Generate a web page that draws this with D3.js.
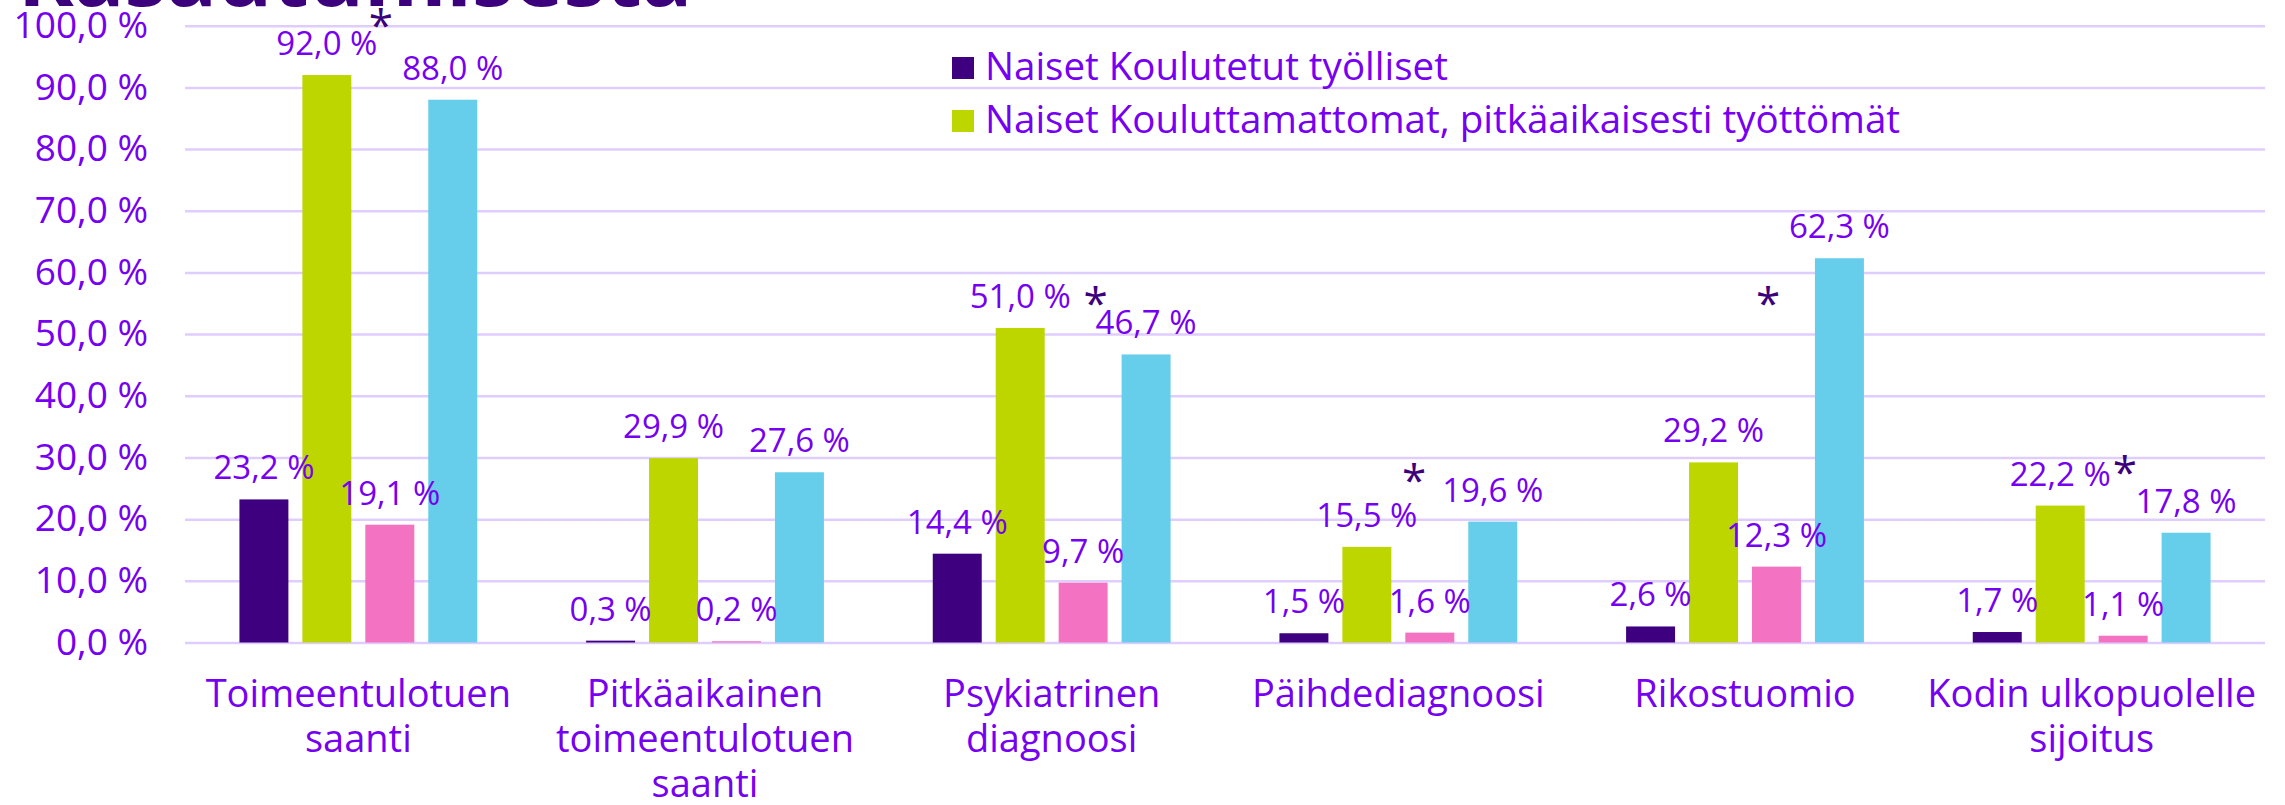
<!DOCTYPE html>
<html>
<head>
<meta charset="utf-8">
<script src="https://cdn.jsdelivr.net/npm/d3@7"></script>
<style>
  body { margin: 0; background: #fff; }
  text { font-family: "Open Sans", "Noto Sans", sans-serif; }
</style>
</head>
<body>
<script>
// luokat ja sarjat
const categories = [
    "Toimeentulotuen saanti",
    "Pitkäaikainen toimeentulotuen saanti",
    "Psykiatrinen diagnoosi",
    "Päihdediagnoosi",
    "Rikostuomio",
    "Kodin ulkopuolelle sijoitus"
];
const seriesNames = [
    "Naiset Koulutetut työlliset",
    "Naiset Kouluttamattomat, pitkäaikaisesti työttömät",
    "Miehet Koulutetut työlliset",
    "Miehet Kouluttamattomat, pitkäaikaisesti työttömät"
];
const seriesColors = ["#3F007F", "#BED600", "#F472C2", "#66CDEA"];

const naisetKoulutetut = [23.2, 0.3, 14.4, 1.5, 2.6, 1.7];
const naisetKouluttamattomat = [92.0, 29.9, 51.0, 15.5, 29.2, 22.2];
const miehetKoulutetut = [19.1, 0.2, 9.7, 1.6, 12.3, 1.1];
const miehetKouluttamattomat = [88.0, 27.6, 46.7, 19.6, 62.3, 17.8];
const seriesValues = [naisetKoulutetut, naisetKouluttamattomat, miehetKoulutetut, miehetKouluttamattomat];

const yTicks = [0, 10, 20, 30, 40, 50, 60, 70, 80, 90, 100];
const legendCount = 2; // vain kaksi ensimmäistä näkyy selitteessä

// tähdet: luokka, kohta ryhmän sisällä (0..1), korkeus prosentteina
const asterisks = [
    { cat: 0, pos: 0.595, value: 101.0 },
    { cat: 2, pos: 0.685, value: 55.8 },
    { cat: 3, pos: 0.566, value: 27.2 },
    { cat: 4, pos: 0.597, value: 55.9 },
    { cat: 5, pos: 0.64, value: 28.4 }
];

const textColor = "#7500F2";
const darkColor = "#3D007D";
const gridColor = "#DFCDFF";

const W = 2285, H = 805;
const plotLeft = 185, plotRight = 2265, plotTop = 25.7, plotBottom = 642.5;

const svg = d3.select("body").append("svg")
    .attr("width", W)
    .attr("height", H);

const y = d3.scaleLinear().domain([0, 100]).range([plotBottom, plotTop]);

const x0 = d3.scaleBand()
    .domain(d3.range(categories.length))
    .range([plotLeft, plotRight])
    .paddingInner(0.314)
    .paddingOuter(0.157);

const x1 = d3.scaleBand()
    .domain(d3.range(seriesNames.length))
    .range([0, x0.bandwidth()])
    .paddingInner(0.222);

const fmt = v => d3.format(".1f")(v).replace(".", ",") + " %";

// otsikko (leikkautuu yläreunasta)
svg.append("text")
    .attr("x", 18)
    .attr("y", 6)
    .attr("fill", darkColor)
    .style("font-size", "84px")
    .style("font-weight", "bold")
    .text("Kasautumisesta");

// y-akseli + ruudukko
const yAxis = svg.append("g")
    .attr("transform", `translate(${plotLeft},0)`)
    .call(d3.axisLeft(y).tickValues(yTicks).tickFormat(fmt)
        .tickSize(-(plotRight - plotLeft)).tickPadding(37));
yAxis.select(".domain").remove();
yAxis.selectAll("line").attr("stroke", gridColor).attr("stroke-width", 2.5);
yAxis.selectAll("text")
    .attr("fill", textColor)
    .style("font-size", "37px");

// pylväät
const groups = svg.selectAll(".group")
    .data(categories.map((c, i) => ({ cat: i, values: seriesValues.map(s => s[i]) })))
    .enter()
    .append("g")
    .attr("class", "group")
    .attr("transform", d => `translate(${x0(d.cat)},0)`);

groups.selectAll("rect")
    .data(d => d.values.map((v, s) => ({ s: s, v: v })))
    .enter()
    .append("rect")
    .attr("x", d => x1(d.s))
    .attr("y", d => y(d.v))
    .attr("width", x1.bandwidth())
    .attr("height", d => y(0) - y(d.v))
    .attr("fill", d => seriesColors[d.s]);

groups.selectAll(".lbl")
    .data(d => d.values.map((v, s) => ({ s: s, v: v })))
    .enter()
    .append("text")
    .attr("class", "lbl")
    .attr("x", d => x1(d.s) + x1.bandwidth() / 2)
    .attr("y", d => y(d.v) - 20)
    .attr("text-anchor", "middle")
    .attr("fill", textColor)
    .style("font-size", "33px")
    .text(d => fmt(d.v));

// tähdet
svg.selectAll(".star")
    .data(asterisks)
    .enter()
    .append("text")
    .attr("class", "star")
    .attr("x", d => x0(d.cat) + d.pos * x0.bandwidth())
    .attr("y", d => y(d.value) + 21)
    .attr("text-anchor", "middle")
    .attr("fill", darkColor)
    .style("font-size", "44px")
    .text("*");

// x-akselin nimet, rivitys
const xAxis = svg.append("g")
    .attr("transform", `translate(0,${plotBottom})`)
    .call(d3.axisBottom(x0).tickSize(0).tickFormat(i => categories[i]));
xAxis.select(".domain").remove();
xAxis.selectAll("text")
    .attr("fill", textColor)
    .style("font-size", "38px")
    .each(function() {
        const t = d3.select(this);
        const words = t.text().split(" ");
        t.text(null).attr("dy", null).attr("y", null);
        let lines = [];
        let line = [];
        let ts = t.append("tspan");
        words.forEach(w => {
            line.push(w);
            ts.text(line.join(" "));
            if (ts.node().getComputedTextLength() > 340 && line.length > 1) {
                line.pop();
                lines.push(line.join(" "));
                line = [w];
                ts.text(w);
            }
        });
        lines.push(line.join(" "));
        t.text(null);
        lines.forEach((l, k) => {
            t.append("tspan").attr("x", 0).attr("y", 64.5 + k * 45).text(l);
        });
    });

// selite
const legend = svg.selectAll(".legend")
    .data(seriesNames.slice(0, legendCount))
    .enter()
    .append("g")
    .attr("class", "legend")
    .attr("transform", (d, i) => `translate(952,${57 + i * 53})`);
legend.append("rect")
    .attr("width", 22).attr("height", 22)
    .attr("fill", (d, i) => seriesColors[i]);
legend.append("text")
    .attr("x", 33).attr("y", 23)
    .attr("fill", textColor)
    .style("font-size", "38.5px")
    .text(d => d);
</script>
</body>
</html>
